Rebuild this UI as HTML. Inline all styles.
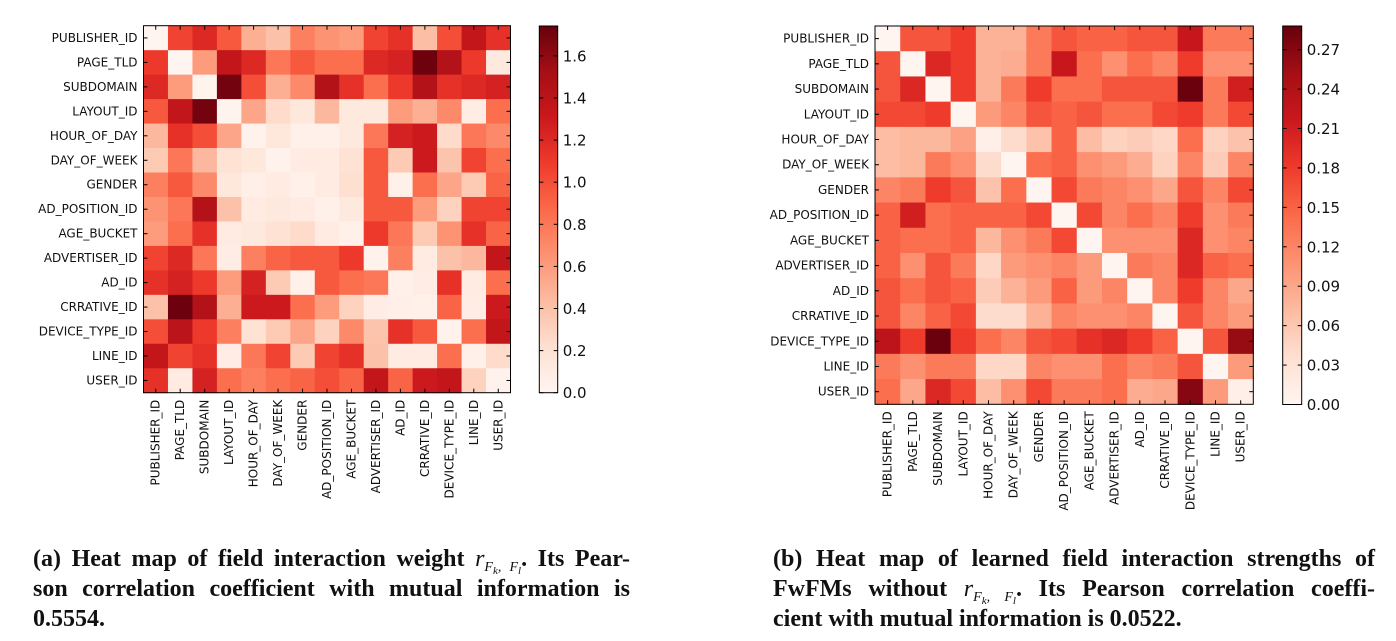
<!DOCTYPE html>
<html><head><meta charset="utf-8">
<style>
body{margin:0;background:#fff;width:1396px;height:641px;overflow:hidden;position:relative;font-family:"DejaVu Sans",sans-serif}
svg{position:absolute;left:0;top:0}
.cap{position:absolute;font-family:"Liberation Serif",serif;font-weight:bold;font-size:24px;line-height:30px;color:#111}
.cap .l{text-align:justify;text-align-last:justify;white-space:nowrap;height:30px;overflow:visible}
.cap .l.last{text-align-last:left}
.cap i{font-weight:normal;font-style:italic}
.cap .s{font-size:14px;font-style:italic;font-weight:normal;position:relative;top:5px;line-height:0}
.cap .s2{font-size:11px;position:relative;top:3px;line-height:0}
</style></head><body>
<svg id="chart" width="1396" height="641" xmlns="http://www.w3.org/2000/svg"></svg>
<div class="cap" style="left:33px;top:544px;width:597px">
<div class="l">(a) Heat map of field interaction weight <i>r</i><span class="s">F<span class="s2">k</span>, F<span class="s2">l</span></span>. Its Pear-</div>
<div class="l">son correlation coefficient with mutual information is</div>
<div class="l last">0.5554.</div>
</div>
<div class="cap" style="left:773px;top:544px;width:602px">
<div class="l">(b) Heat map of learned field interaction strengths of</div>
<div class="l">FwFMs without <i>r</i><span class="s">F<span class="s2">k</span>, F<span class="s2">l</span></span>. Its Pearson correlation coeffi-</div>
<div class="l last">cient with mutual information is 0.0522.</div>
</div>
<script>
const fields = ["PUBLISHER_ID","PAGE_TLD","SUBDOMAIN","LAYOUT_ID","HOUR_OF_DAY","DAY_OF_WEEK","GENDER","AD_POSITION_ID","AGE_BUCKET","ADVERTISER_ID","AD_ID","CRRATIVE_ID","DEVICE_TYPE_ID","LINE_ID","USER_ID"];
const weightsA = [
[0,1.05,1.2,0.95,0.5,0.4,0.75,0.65,0.6,1.05,1.15,0.42,1.0,1.35,1.15],
[1.1,0,0.6,1.35,1.2,0.8,0.95,0.85,0.85,1.2,1.25,1.72,1.45,1.1,0.12],
[1.2,0.6,0.02,1.7,1.0,0.5,0.7,1.45,1.15,0.85,1.1,1.45,1.15,1.2,1.25],
[0.95,1.35,1.7,0.02,0.55,0.25,0.15,0.45,0.12,0.12,0.6,0.5,0.7,0.08,0.85],
[0.45,1.15,1.0,0.55,0.03,0.15,0.05,0.05,0.12,0.8,1.25,1.3,0.25,0.8,0.7],
[0.35,0.8,0.45,0.2,0.15,0.03,0.1,0.1,0.2,0.95,0.35,1.3,0.38,1.05,0.85],
[0.75,0.95,0.7,0.15,0.06,0.1,0.04,0.1,0.22,0.95,0.05,0.85,0.55,0.35,0.9],
[0.65,0.8,1.45,0.4,0.1,0.12,0.1,0.05,0.12,0.95,0.95,0.6,0.3,1.05,1.05],
[0.6,0.85,1.15,0.1,0.12,0.2,0.25,0.1,0.04,1.1,0.8,0.35,0.65,1.15,0.9],
[1.05,1.2,0.8,0.08,0.75,0.9,0.95,0.95,1.1,0.03,0.75,0.1,0.4,0.45,1.35],
[1.15,1.25,1.1,0.6,1.25,0.35,0.05,0.95,0.85,0.8,0.04,0.08,1.15,0.1,0.85],
[0.4,1.72,1.45,0.5,1.3,1.3,0.85,0.6,0.3,0.08,0.06,0.05,0.9,0.08,1.3],
[1.0,1.4,1.1,0.75,0.2,0.35,0.55,0.3,0.7,0.38,1.15,0.95,0.03,0.85,1.35],
[1.35,1.05,1.15,0.08,0.8,1.05,0.35,1.05,1.15,0.4,0.1,0.1,0.85,0.05,0.25],
[1.15,0.1,1.25,0.85,0.75,0.85,0.9,1.0,0.9,1.35,0.9,1.3,1.35,0.3,0.03]];
const strengthsB = [
[0,.16,.16,.18,.08,.08,.13,.16,.15,.15,.16,.16,.22,.13,.13],
[.16,0,.2,.18,.08,.085,.13,.22,.14,.11,.14,.12,.18,.11,.11],
[.16,.2,0,.18,.08,.13,.18,.14,.14,.16,.16,.16,.285,.13,.21],
[.17,.17,.18,0,.1,.12,.16,.15,.16,.14,.14,.17,.18,.13,.17],
[.07,.075,.075,.095,.01,.04,.065,.15,.07,.05,.055,.045,.14,.05,.065],
[.07,.075,.13,.11,.04,0,.14,.15,.11,.1,.085,.05,.12,.055,.12],
[.12,.13,.18,.16,.065,.14,0,.17,.13,.12,.11,.09,.16,.12,.17],
[.15,.21,.14,.15,.15,.15,.17,0,.17,.12,.14,.12,.18,.11,.13],
[.15,.14,.14,.15,.075,.11,.13,.17,0,.11,.11,.11,.2,.11,.12],
[.15,.11,.16,.13,.045,.1,.11,.12,.1,0,.13,.12,.2,.15,.14],
[.16,.14,.16,.15,.055,.08,.1,.15,.1,.12,0,.12,.18,.12,.09],
[.16,.12,.15,.17,.04,.04,.08,.12,.11,.11,.12,0,.16,.12,.1],
[.23,.18,.285,.18,.14,.12,.16,.17,.19,.2,.18,.15,0,.16,.26],
[.13,.11,.13,.13,.045,.045,.12,.11,.11,.14,.12,.13,.16,0,.1],
[.14,.09,.2,.17,.07,.11,.17,.13,.13,.14,.085,.09,.27,.1,.01]];
const ticksA = [0,0.2,0.4,0.6,0.8,1.0,1.2,1.4,1.6];
const ticksB = [0,0.03,0.06,0.09,0.12,0.15,0.18,0.21,0.24,0.27];

const REDS=["#fff5f0","#fee0d2","#fcbba1","#fc9272","#fb6a4a","#ef3b2c","#cb181d","#a50f15","#67000d"];
function hex(h){return [1,3,5].map(i=>parseInt(h.substr(i,2),16));}
function reds(t){t=Math.max(0,Math.min(1,t));const s=t*8,i=Math.min(7,Math.floor(s)),f=s-i;const a=hex(REDS[i]),b=hex(REDS[i+1]);return "rgb("+a.map((v,k)=>Math.round(v+(b[k]-v)*f)).join(",")+")";}
const svg=document.getElementById('chart');const NS="http://www.w3.org/2000/svg";
function mk(tag,attrs,parent){const e=document.createElementNS(NS,tag);for(const k in attrs)e.setAttribute(k,attrs[k]);(parent||svg).appendChild(e);return e;}

function heatmap(id,data,x0,y0,size,vmax,cb,ticks,dec){
  const g=mk('g',{});
  
  
  const n=fields.length,c=size/n;
  const xs=j=>x0+j*c, ys=i=>y0+i*c;
  data.forEach((row,i)=>row.forEach((v,j)=>{
    const r=mk('rect',{x:xs(j),y:ys(i),width:c+0.5,height:c+0.5,fill:reds(v/vmax)},g);
    
    
  }));
  const fr=mk('rect',{x:x0,y:y0,width:size,height:size,fill:'none',stroke:'#000','stroke-width':1},g);
  
  
  fields.forEach((f,k)=>{
    const cx=xs(k)+c/2, cy=ys(k)+c/2;
    mk('line',{x1:cx,x2:cx,y1:y0,y2:y0+4,stroke:'#000'},g);
    mk('line',{x1:cx,x2:cx,y1:y0+size,y2:y0+size-4,stroke:'#000'},g);
    mk('line',{x1:x0,x2:x0+4,y1:cy,y2:cy,stroke:'#000'},g);
    mk('line',{x1:x0+size,x2:x0+size-4,y1:cy,y2:cy,stroke:'#000'},g);
    const t=mk('text',{x:x0-6,y:cy+4,'text-anchor':'end','font-size':12,fill:'#111'},g);t.textContent=f;
    
    
    const tx=mk('text',{x:0,y:0,'text-anchor':'end','font-size':12,fill:'#111',transform:`translate(${cx+4},${y0+size+7}) rotate(-90)`},g);tx.textContent=f;
    
    
  });
  const cg=mk('g',{});
  
  
  const [cx0,cy0,cw,ch]=cb;
  const defs=mk('defs',{},cg);
  const lg=mk('linearGradient',{id:id+'g',x1:0,y1:1,x2:0,y2:0},defs);
  for(let k=0;k<=8;k++)mk('stop',{offset:k/8,'stop-color':REDS[k]},lg);
  mk('rect',{x:cx0,y:cy0,width:cw,height:ch,fill:`url(#${id}g)`,stroke:'#000'},cg);
  const cyv=v=>cy0+ch-v/vmax*ch;
  ticks.forEach(v=>{
    const y=cyv(v);
    mk('line',{x1:cx0,x2:cx0+4,y1:y,y2:y,stroke:'#000'},cg);
    mk('line',{x1:cx0+cw,x2:cx0+cw-4,y1:y,y2:y,stroke:'#000'},cg);
    const t=mk('text',{x:cx0+cw+5,y:y+5.5,'font-size':15,fill:'#111'},cg);t.textContent=v.toFixed(dec);
    
    
  });
}
heatmap('heatmap-a',weightsA,143.5,25.7,367,1.742,[539.3,26,18.4,366.7],ticksA,1);
heatmap('heatmap-b',strengthsB,875,26,378.3,0.288,[1282.7,26,19,378.5],ticksB,2);
</script>
</body></html>
